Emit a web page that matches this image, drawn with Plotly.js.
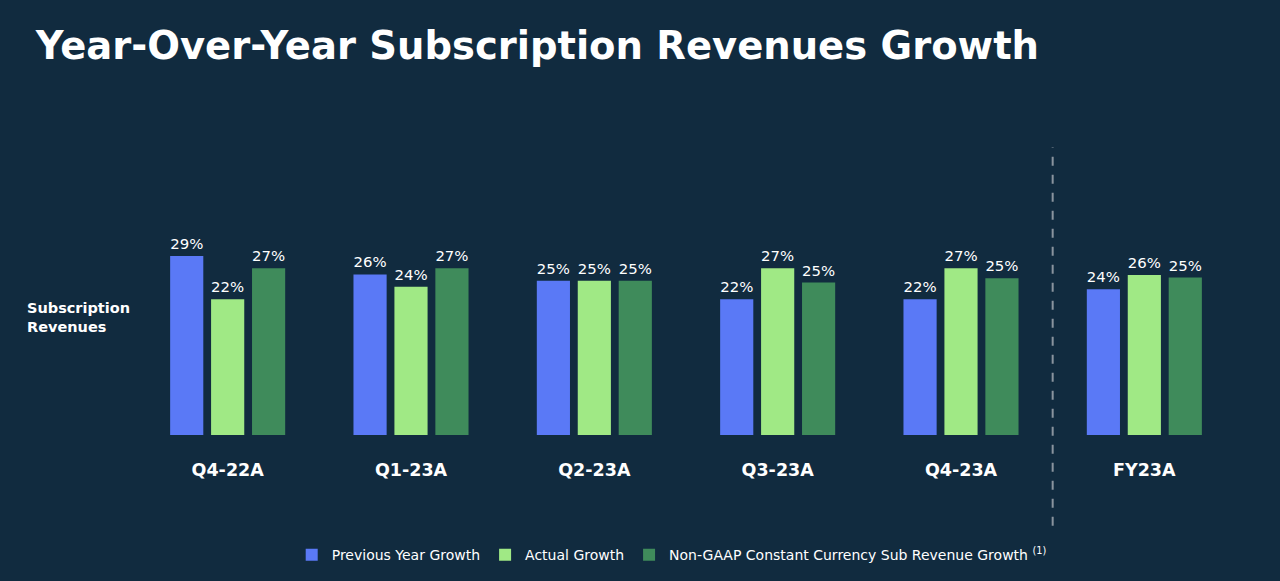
<!DOCTYPE html>
<html>
<head>
<meta charset="utf-8">
<script src="https://cdn.plot.ly/plotly-3.0.1.min.js"></script>
<style>
  html, body { margin: 0; padding: 0; background: #112b3f; }
  #chart { width: 1280px; height: 581px; }
</style>
</head>
<body>
<div id="chart"></div>
<script>
const categories = ["Q4-22A", "Q1-23A", "Q2-23A", "Q3-23A", "Q4-23A", "FY23A"];
const previousYearGrowth = [29, 26, 25, 22, 22, 23.6];
const actualGrowth = [22, 24, 25, 27, 27, 25.9];
const constantCurrencyGrowth = [27, 27, 25, 24.7, 25.4, 25.5];
const previousYearLabels = ["29%", "26%", "25%", "22%", "22%", "24%"];
const actualLabels = ["22%", "24%", "25%", "27%", "27%", "26%"];
const constantCurrencyLabels = ["27%", "27%", "25%", "25%", "25%", "25%"];
const seriesNames = [
  "Previous Year Growth",
  "Actual Growth",
  "Non-GAAP Constant Currency Sub Revenue Growth <sup>(1)</sup>"
];

const xIdx = categories.map((c, i) => i);
const FONT = "DejaVu Sans, sans-serif";
const labelFont = { family: FONT, size: 15, color: "#ffffff" };

function barTrace(name, values, labels, color) {
  return {
    type: "bar",
    name: name,
    x: xIdx,
    y: values,
    text: labels,
    textposition: "outside",
    texttemplate: "%{text}",
    textfont: labelFont,
    cliponaxis: false,
    marker: { color: color, line: { width: 0 } },
    hoverinfo: "skip"
  };
}

const data = [
  barTrace(seriesNames[0], previousYearGrowth, previousYearLabels, "#5a79f6"),
  barTrace(seriesNames[1], actualGrowth, actualLabels, "#a0e985"),
  barTrace(seriesNames[2], constantCurrencyGrowth, constantCurrencyLabels, "#3f8b5b")
];

const layout = {
  width: 1280,
  height: 581,
  paper_bgcolor: "#112b3f",
  plot_bgcolor: "#112b3f",
  margin: { l: 136, r: 44, t: 188, b: 145 },
  barmode: "group",
  bargap: 0.33,
  bargroupgap: 0.19,
  showlegend: true,
  title: {
    text: "<b>Year-Over-Year Subscription Revenues Growth</b>",
    font: { family: FONT, size: 38.5, color: "#ffffff" },
    xref: "container", x: 0.028, xanchor: "left",
    yref: "container", y: 0.922, yanchor: "middle"
  },
  xaxis: {
    range: [-0.5, 5.5],
    tickmode: "array",
    tickvals: xIdx,
    ticktext: categories.map(c => "<b>" + c + "</b>"),
    tickfont: { family: FONT, size: 17.5, color: "#ffffff" },
    ticks: "",
    ticklabelstandoff: 22,
    showgrid: false,
    zeroline: false,
    showline: false,
    fixedrange: true
  },
  yaxis: {
    range: [0, 40],
    visible: false,
    showgrid: false,
    zeroline: false,
    fixedrange: true
  },
  legend: {
    orientation: "h",
    x: 0.487, xanchor: "center",
    y: -0.48, yanchor: "middle",
    font: { family: FONT, size: 14, color: "#ffffff" },
    bgcolor: "rgba(0,0,0,0)",
    itemwidth: 30,
    itemclick: false,
    itemdoubleclick: false,
    traceorder: "normal"
  },
  shapes: [
    {
      type: "line",
      xref: "x", yref: "paper",
      x0: 4.5, x1: 4.5, y0: -0.367, y1: 1.165,
      line: { color: "#8a949e", width: 2, dash: "dash" }
    }
  ],
  annotations: [
    {
      text: "<b>Subscription<br>Revenues</b>",
      xref: "paper", yref: "paper",
      x: (25 - 136) / 1100, xanchor: "left",
      y: (436 - 318) / 248, yanchor: "middle",
      align: "left",
      showarrow: false,
      font: { family: FONT, size: 14.5, color: "#ffffff" }
    }
  ]
};

Plotly.newPlot("chart", data, layout, { displayModeBar: false, staticPlot: true });
</script>
</body>
</html>
